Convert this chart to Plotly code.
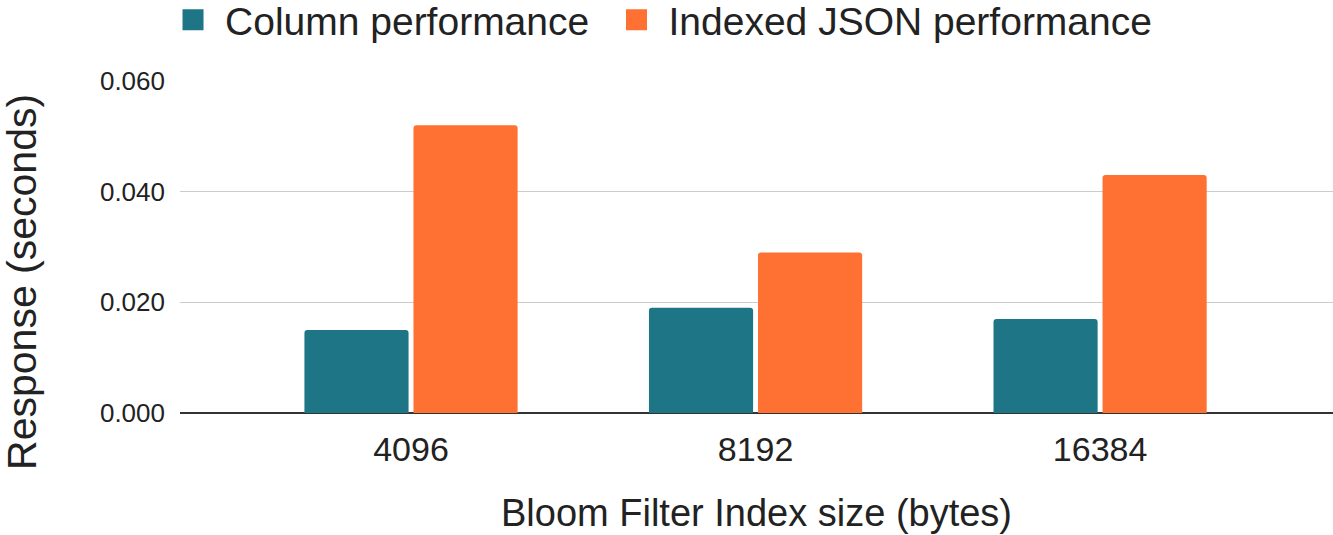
import plotly.graph_objects as go

categories = ["4096", "8192", "16384"]
column_perf = [0.015, 0.019, 0.017]
json_perf = [0.052, 0.029, 0.043]
series_names = ["Column performance", "Indexed JSON performance"]
y_ticks = [0.0, 0.02, 0.04, 0.06]

TEAL = "#1e7585"
ORANGE = "#ff7033"
FONT = "Liberation Sans, Arial, sans-serif"

fig = go.Figure()
fig.add_trace(go.Bar(x=categories, y=column_perf, name=series_names[0],
                     marker=dict(color=TEAL, line=dict(width=0)), showlegend=False))
fig.add_trace(go.Bar(x=categories, y=json_perf, name=series_names[1],
                     marker=dict(color=ORANGE, line=dict(width=0)), showlegend=False))
# legend swatches (one legend per entry so spacing can match the reference)
for nm, col, lg in zip(series_names, [TEAL, ORANGE], ["legend", "legend2"]):
    fig.add_trace(go.Scatter(x=[None], y=[None], mode="markers", name=nm, legend=lg,
                             marker=dict(symbol="square", size=16, color=col,
                                         line=dict(color=col, width=5))))

legend_common = dict(orientation="h", xref="container", xanchor="left",
                     yref="paper", y=1.184, yanchor="middle",
                     font=dict(size=39, color="#222222"), itemwidth=54,
                     bgcolor="rgba(0,0,0,0)")

fig.update_layout(
    width=1333, height=535,
    margin=dict(l=180, r=0, t=81, b=122, autoexpand=False),
    paper_bgcolor="white", plot_bgcolor="white",
    font=dict(family=FONT, color="#222222"),
    barmode="group", bargap=0.367, bargroupgap=0.045,
    barcornerradius=3,
    showlegend=True,
    legend=dict(x=0.1208, **legend_common),
    legend2=dict(x=0.4535, **legend_common),
    xaxis=dict(range=[-0.6705, 2.676], showgrid=False, zeroline=False,
               automargin=False,
               tickfont=dict(size=34, color="#222222"), ticks="", showline=False,
               ticklabelstandoff=13,
               title=dict(text="Bloom Filter Index size (bytes)",
                          font=dict(size=38, color="#222222"), standoff=32)),
    yaxis=dict(range=[0, 0.06], tickvals=y_ticks, tickformat=".3f",
               automargin=False,
               showgrid=True, gridcolor="#cccccc", gridwidth=1,
               zeroline=True, zerolinecolor="#333333", zerolinewidth=1.5,
               tickfont=dict(size=26, color="#222222"), ticklabelstandoff=14,
               showline=False),
)
fig.add_annotation(text="Response (seconds)", textangle=-90,
                   xref="paper", yref="paper", x=-0.137, y=0.395,
                   xanchor="center", yanchor="middle", showarrow=False,
                   font=dict(size=41, color="#222222", family=FONT))

fig.write_html("out.html", config={"displayModeBar": False},
               post_script="document.body.style.margin='0';document.body.style.padding='0';")
